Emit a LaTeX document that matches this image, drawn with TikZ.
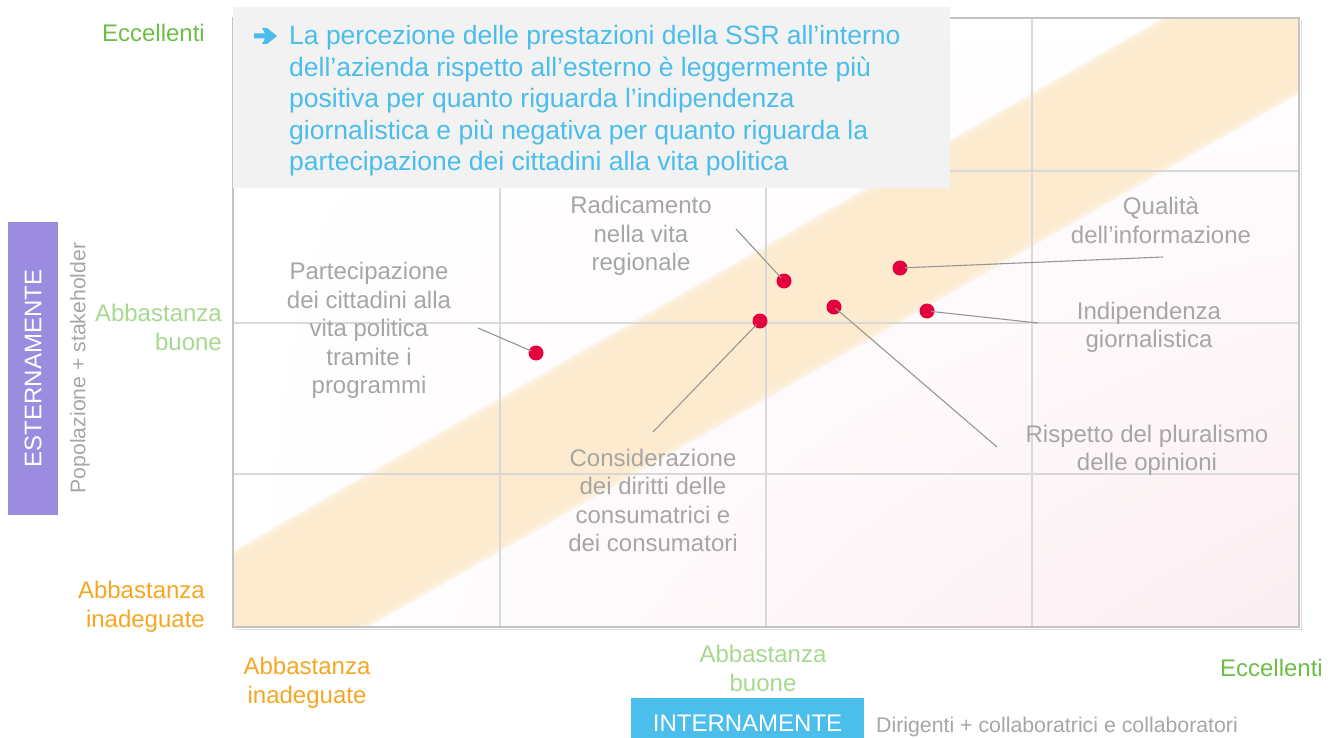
\documentclass[tikz,border=0pt]{standalone}
\usepackage{fontspec}
\usetikzlibrary{shadings}
\setmainfont{Liberation Sans}
\definecolor{bandC}{RGB}{252,235,206}
\definecolor{pinkB}{RGB}{252,238,242}
\definecolor{gridC}{RGB}{217,217,217}
\definecolor{frameC}{RGB}{196,196,196}
\definecolor{boxC}{RGB}{242,242,242}
\definecolor{blueT}{RGB}{75,189,235}
\definecolor{greenD}{RGB}{108,190,72}
\definecolor{greenL}{RGB}{166,217,143}
\definecolor{orangeT}{RGB}{245,166,35}
\definecolor{grayT}{RGB}{166,166,166}
\definecolor{lineC}{RGB}{150,150,150}
\definecolor{dotC}{RGB}{228,0,60}
\definecolor{purpC}{RGB}{155,140,224}
\definecolor{blueB}{RGB}{75,190,235}
\tikzset{
  lbl/.style={font=\fontsize{24}{28.5}\selectfont, text=grayT, align=center, inner sep=0pt, anchor=base},
  axl/.style={font=\fontsize{24}{29}\selectfont, inner sep=0pt, anchor=base},
  dot/.style={circle, fill=dotC, minimum size=15pt, inner sep=0pt},
  leader/.style={draw=lineC, line width=1.1pt},
  gridline/.style={draw=gridC, line width=2.5pt}
}
\begin{document}
\begin{tikzpicture}[x=1pt,y=-1pt]
\useasboundingbox (0,0) rectangle (1343,738);
% plot area background
\begin{scope}
\clip (233,18) rectangle (1299,627);
\shade[upper left=white, upper right=white, lower left=white, lower right=pinkB] (233,18) rectangle (1299,627);
\foreach \h in {63,65,67,69,71,73,75,77}{
  \fill[bandC, opacity=0.4] (100,{704-\h}) -- (1400,{-41-\h}) -- (1400,{-41+\h}) -- (100,{704+\h}) -- cycle;
}
\end{scope}
% grid
\foreach \x in {500,766,1032} \draw[gridline] (\x,18) -- (\x,627);
\foreach \y in {171,323,474} \draw[gridline] (233,\y) -- (1299,\y);
% frame
\draw[gray!25, line width=1.5pt] (235,629.5) -- (1301.5,629.5) -- (1301.5,20);
\draw[frameC, line width=2pt] (233,18) rectangle (1299,627);
% top box
\node[fill=boxC, inner sep=0pt, minimum width=717pt, minimum height=181pt, anchor=north west] (topbox) at (233,7) {};
\fill[blueT] (254,33.5) -- (265,33.5) -- (262,28) -- (267,28) -- (277,36) -- (267,44) -- (262,44) -- (265,38.5) -- (254,38.5) -- cycle;
\node[font=\fontsize{26.5}{31.5}\selectfont, text=blueT, align=left, inner sep=0pt, anchor=base west] (toptext) at (289,171)
 {La percezione delle prestazioni della SSR all’interno\\
  dell’azienda rispetto all’esterno è leggermente più\\
  positiva per quanto riguarda l’indipendenza\\
  giornalistica e più negativa per quanto riguarda la\\
  partecipazione dei cittadini alla vita politica};
% dots
\node[dot] (dPart) at (536,353) {};
\node[dot] (dCons) at (760,321) {};
\node[dot] (dRad) at (784,281) {};
\node[dot] (dRisp) at (834,307) {};
\node[dot] (dQual) at (900,268) {};
\node[dot] (dInd) at (927,311) {};
% labels (anchor = baseline of last line)
\node[lbl] (lPart) at (369,393.5) {Partecipazione\\dei cittadini alla\\vita politica\\tramite i\\programmi};
\node[lbl] (lRad) at (641,270.5) {Radicamento\\nella vita\\regionale};
\node[lbl] (lQual) at (1161,243) {Qualità\\dell’informazione};
\node[lbl] (lInd) at (1149,347.5) {Indipendenza\\giornalistica};
\node[lbl] (lRisp) at (1147,470.5) {Rispetto del pluralismo\\delle opinioni};
\node[lbl] (lCons) at (653,551.5) {Considerazione\\dei diritti delle\\consumatrici e\\dei consumatori};
% leader ends
\coordinate (cPart) at (478,328);
\coordinate (cRad) at (736,229);
\coordinate (cCons) at (653,432);
\coordinate (cRisp) at (997,447);
\coordinate (cQual) at (1163,257);
\coordinate (cInd) at (1038,323);
\draw[leader, shorten >=5pt] (cPart) -- (dPart.center);
\draw[leader, shorten >=4pt] (cRad) -- (dRad.center);
\draw[leader, shorten >=5pt] (cCons) -- (dCons.center);
\draw[leader, shorten >=2pt] (cRisp) -- (dRisp.center);
\draw[leader, shorten >=5pt] (cQual) -- (dQual.center);
\draw[leader, shorten >=4pt] (cInd) -- (dInd.center);
% axis value labels (vertical axis)
\node[axl, text=greenD, anchor=base east] (yExc) at (205,41.5) {Eccellenti};
\node[axl, text=greenL, align=right, anchor=base east] (yBuo) at (222,350) {Abbastanza\\buone};
\node[axl, text=orangeT, align=right, anchor=base east] (yIna) at (205,627) {Abbastanza\\inadeguate};
% axis value labels (horizontal axis)
\node[axl, text=orangeT, align=center] (xIna) at (307,703) {Abbastanza\\inadeguate};
\node[axl, text=greenL, align=center] (xBuo) at (763,691) {Abbastanza\\buone};
\node[axl, text=greenD, anchor=base east] (xExc) at (1323,676) {Eccellenti};
% axis titles
\node[fill=purpC, minimum width=293pt, minimum height=50pt, inner sep=0pt, rotate=90, text=white, font=\fontsize{24}{24}\selectfont] (ext) at (33,368.5) {ESTERNAMENTE};
\node[rotate=90, text=grayT, inner sep=0pt, font=\fontsize{21.2}{21}\selectfont] (pop) at (80,368) {Popolazione + stakeholder};
\node[fill=blueB, minimum width=233pt, minimum height=40pt, inner sep=0pt, anchor=north west] (intbox) at (631,698) {};
\node[text=white, inner sep=0pt, anchor=base, font=\fontsize{24}{24}\selectfont] (inttext) at (747.5,731) {INTERNAMENTE};
\node[text=grayT, inner sep=0pt, anchor=base west, font=\fontsize{21.3}{21}\selectfont] (dir) at (876,732) {Dirigenti + collaboratrici e collaboratori};
\end{tikzpicture}
\end{document}
